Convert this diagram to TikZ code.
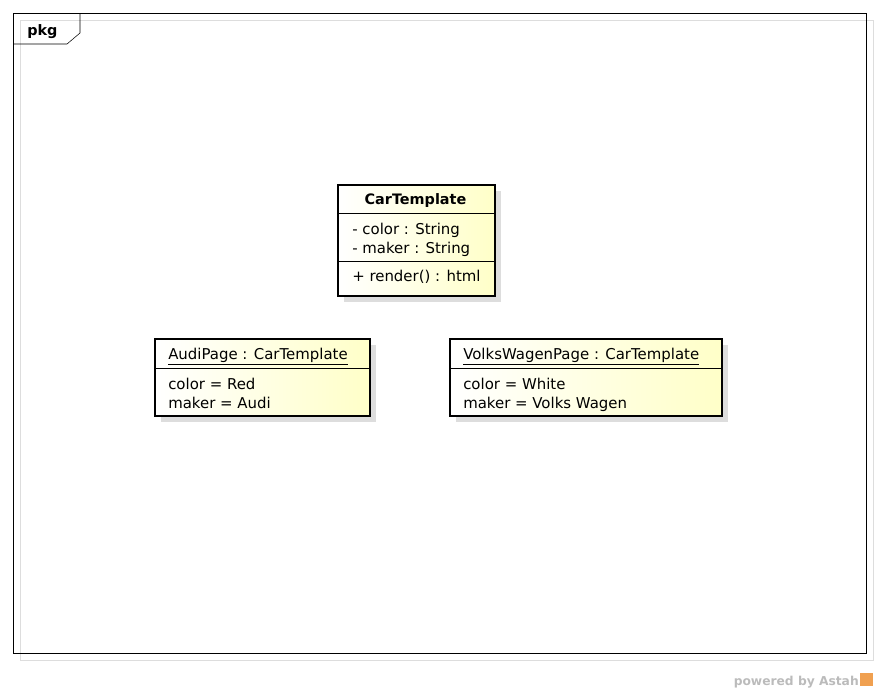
\documentclass[tikz,border=0pt]{standalone}
\usepackage{fontspec}
\setmainfont{DejaVu Sans}
\usetikzlibrary{positioning}
\definecolor{noteyellow}{HTML}{FFFFC8}
\definecolor{shadowgray}{HTML}{DDDDDD}
\definecolor{astahgray}{HTML}{BBBBBB}
\definecolor{astahorange}{HTML}{F0A050}

\begin{document}
\begin{tikzpicture}[x = 0.75pt, y = -0.75pt]
\tikzstyle{ClassBox}=[draw, line width = 1.5pt,
                      left color = white, right color = noteyellow,
                      inner sep = 0pt, anchor = north west]
\tikzstyle{ShadowBox}=[fill = shadowgray, inner sep = 0pt, anchor = north west]
\tikzstyle{Txt}=[inner sep = 0pt, anchor = base west,
                 font = \fontsize{11.2}{13}\selectfont]
\useasboundingbox (0,0) rectangle (880,693);
% frame
\draw[fill = white] (13,13) rectangle (866,653);
\draw[shadowgray] (20,20) rectangle (873,660);
\draw (13,13) rectangle (866,653);
\draw (13,44) -- (67,44) -- (80,33) -- (80,13);
\node[Txt, font = \fontsize{10.8}{13}\selectfont\bfseries] (pkg) at (27,35) {pkg};
% CarTemplate
\node[ShadowBox, minimum width = 157*0.75pt, minimum height = 111*0.75pt] (carshadow) at (344,191) {};
\node[ClassBox, minimum width = 157*0.75pt, minimum height = 111*0.75pt] (car) at (337,184) {};
\draw[line width = 0.6pt] (car.west |- 0,213) -- (car.east |- 0,213);
\draw[line width = 0.6pt] (car.west |- 0,261) -- (car.east |- 0,261);
\node[Txt, anchor = base, font = \fontsize{10.8}{13}\selectfont\bfseries] (carname) at (415.5,204) {CarTemplate};
\node[Txt] (carcolor) at (352,234) {- color : String};
\node[Txt] (carmaker) at (352,253) {- maker : String};
\node[Txt] (carrender) at (352,281) {+ render() : html};
% AudiPage
\node[ShadowBox, minimum width = 215*0.75pt, minimum height = 77*0.75pt] (audishadow) at (161,345) {};
\node[ClassBox, minimum width = 215*0.75pt, minimum height = 77*0.75pt] (audi) at (154,338) {};
\draw[line width = 0.6pt] (audi.west |- 0,368) -- (audi.east |- 0,368);
\node[Txt] (audiname) at (168,359) {\underline{AudiPage : CarTemplate}};
\node[Txt] (audicolor) at (168,389) {color = Red};
\node[Txt] (audimaker) at (168,408) {maker = Audi};
% VolksWagenPage
\node[ShadowBox, minimum width = 272*0.75pt, minimum height = 77*0.75pt] (vwshadow) at (456,345) {};
\node[ClassBox, minimum width = 272*0.75pt, minimum height = 77*0.75pt] (vw) at (449,338) {};
\draw[line width = 0.6pt] (vw.west |- 0,368) -- (vw.east |- 0,368);
\node[Txt] (vwname) at (463,359) {\underline{VolksWagenPage : CarTemplate}};
\node[Txt] (vwcolor) at (463,389) {color = White};
\node[Txt] (vwmaker) at (463,408) {maker = Volks Wagen};
% powered by
\node[Txt, anchor = base east, text = astahgray, font = \fontsize{9.2}{11}\selectfont\bfseries] (powered) at (859,685) {powered by Astah};
\node[fill = astahorange, inner sep = 0pt, minimum size = 13*0.75pt, anchor = north west] (astahlogo) at (860,673) {};
\end{tikzpicture}
\end{document}
